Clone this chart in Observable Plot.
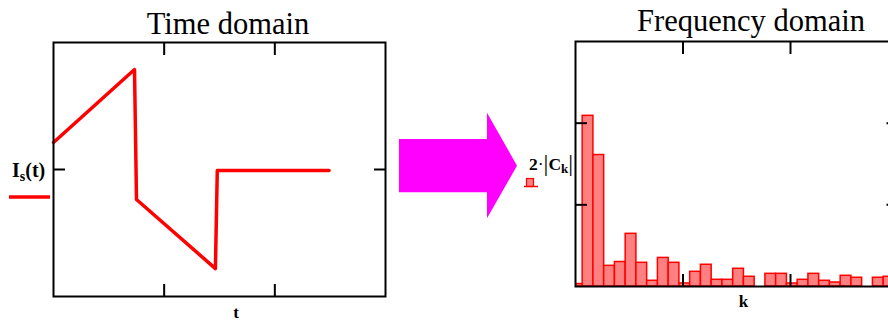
<!DOCTYPE html>
<html>
<head>
<meta charset="utf-8">
<script src="https://cdn.jsdelivr.net/npm/d3@7"></script>
<script src="https://cdn.jsdelivr.net/npm/@observablehq/plot@0.6"></script>
<style>
  html, body { margin: 0; padding: 0; background: #fff; }
  #wrap { position: relative; width: 888px; height: 324px; overflow: hidden; background: #fff; }
  #wrap > .p { position: absolute; top: 0; }
  #wrap > .p svg { max-width: none !important; }
  #overlay { position: absolute; left: 0; top: 0; pointer-events: none; }
</style>
</head>
<body>
<div id="wrap">
  <div id="p1" class="p" style="left:0px; width:400px"></div>
  <div id="p2" class="p" style="left:560px; width:340px"></div>
  <svg id="overlay" width="888" height="324" font-family="'Liberation Serif', 'DejaVu Serif', serif">
    <polygon points="399,139 487,139 487,112.7 517,165.7 487,218.3 487,192.3 399,192.3" fill="#ff00ff"/>
    <text x="228" y="34" font-size="30.5" text-anchor="middle">Time domain</text>
    <text x="751" y="31" font-size="30.5" text-anchor="middle">Frequency domain</text>
    <text x="236" y="318" font-size="17" font-weight="bold" text-anchor="middle">t</text>
    <text x="743.5" y="307" font-size="17" font-weight="bold" text-anchor="middle">k</text>
    <text x="12" y="177" font-size="20" font-weight="bold">I<tspan font-size="14" dy="4">s</tspan><tspan dy="-4">(t)</tspan></text>
    <line x1="9" x2="50" y1="197" y2="197" stroke="red" stroke-width="3.5"/>
    <text x="529" y="170" font-size="17.5" font-weight="bold">2<tspan font-weight="normal">·</tspan><tspan font-weight="normal" font-size="24" dy="1">|</tspan><tspan dy="-1">C</tspan><tspan font-size="13" dy="3">k</tspan><tspan font-weight="normal" font-size="24" dy="-2">|</tspan></text>
    <rect x="526.5" y="178.5" width="7" height="8" fill="#ff8080" stroke="red" stroke-width="1.2"/>
    <line x1="524" x2="538" y1="186.5" y2="186.5" stroke="red" stroke-width="1.5"/>
  </svg>
</div>
<script>
// ---- Time domain data ----
const timeT = [0, 0.732, 0.75, 1.463, 1.48, 2.49];
const timeI = [0.213, 0.787, -0.236, -0.78, -0.008, -0.008];

// ---- Frequency domain data: 2·|C_k| for k = 0..29 ----
const freqK = d3.range(0, 30);
const freqC = [0.03, 2.09, 1.61, 0.253, 0.30, 0.645, 0.29, 0.07, 0.35, 0.29,
               0.037, 0.18, 0.266, 0.082, 0.082, 0.217, 0.119, 0, 0.155, 0.155,
               0.037, 0.082, 0.155, 0.07, 0.049, 0.131, 0.107, 0, 0.107, 0.119];

// tick values
const timeXTicks = [1, 2];
const timeYTicks = [0];
const freqXTicks = [10, 20];
const freqYTicks = [1, 2];

const timeData = timeT.map((t, i) => ({t, I: timeI[i]}));
const freqData = freqK.map((k, i) => ({k, c: freqC[i]}));

const noLabel = () => "";

const p1 = Plot.plot({
  width: 400, height: 324,
  marginLeft: 53, marginRight: 15, marginTop: 42, marginBottom: 28,
  x: {domain: [0, 3]},
  y: {domain: [-1, 1]},
  marks: [
    Plot.axisX({anchor: "top", ticks: timeXTicks, tickSize: -12, tickFormat: noLabel, strokeWidth: 2, label: null}),
    Plot.axisX({anchor: "bottom", ticks: timeXTicks, tickSize: -12, tickFormat: noLabel, strokeWidth: 2, label: null}),
    Plot.axisY({anchor: "left", ticks: timeYTicks, tickSize: -12, tickFormat: noLabel, strokeWidth: 2, label: null}),
    Plot.axisY({anchor: "right", ticks: timeYTicks, tickSize: -12, tickFormat: noLabel, strokeWidth: 2, label: null}),
    Plot.line(timeData, {x: "t", y: "I", stroke: "red", strokeWidth: 3.5, strokeLinejoin: "round", strokeLinecap: "round"}),
    Plot.frame({stroke: "black", strokeWidth: 2})
  ]
});
document.getElementById("p1").appendChild(p1);

const p2 = Plot.plot({
  width: 340, height: 324,
  marginLeft: 15, marginRight: 2.5, marginTop: 41, marginBottom: 38,
  x: {domain: [0, 30]},
  y: {domain: [0, 3]},
  marks: [
    Plot.rectY(freqData, {x1: d => d.k - 1/3, x2: d => d.k + 2/3, y: "c", fill: "#ff8080", stroke: "red", strokeWidth: 1.5, clip: true}),
    Plot.axisX({anchor: "top", ticks: freqXTicks, tickSize: -12, tickFormat: noLabel, strokeWidth: 2, label: null}),
    Plot.axisX({anchor: "bottom", ticks: freqXTicks, tickSize: -12, tickFormat: noLabel, strokeWidth: 2, label: null}),
    Plot.axisY({anchor: "left", ticks: freqYTicks, tickSize: -12, tickFormat: noLabel, strokeWidth: 2, label: null}),
    Plot.axisY({anchor: "right", ticks: freqYTicks, tickSize: -12, tickFormat: noLabel, strokeWidth: 2, label: null}),
    Plot.frame({stroke: "black", strokeWidth: 2})
  ]
});
document.getElementById("p2").appendChild(p2);
</script>
</body>
</html>
